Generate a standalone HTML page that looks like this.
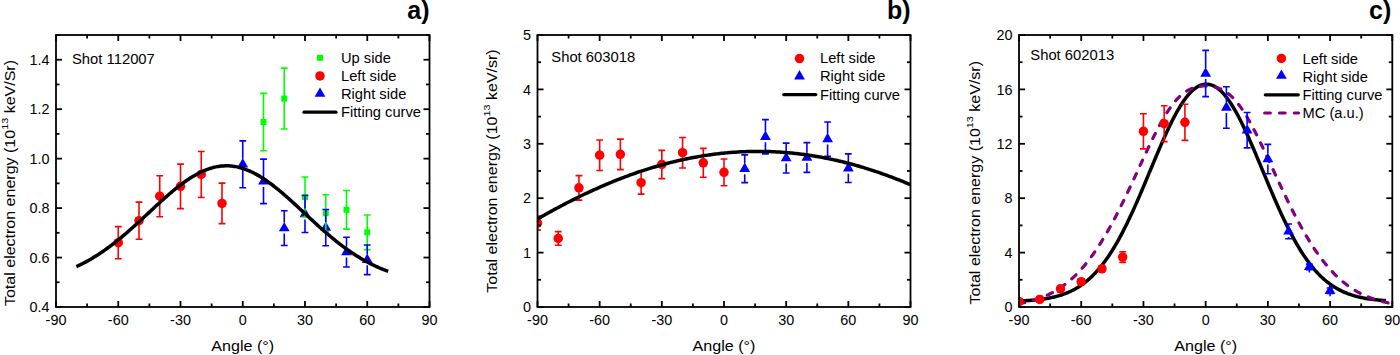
<!DOCTYPE html>
<html><head><meta charset="utf-8"><style>
html,body{margin:0;padding:0;background:#fff;width:1400px;height:355px;overflow:hidden}
svg{display:block}
text{font-family:"Liberation Sans", sans-serif;fill:#000}
</style></head><body>
<svg width="1400" height="355" viewBox="0 0 1400 355">
<defs><clipPath id="ca"><rect x="56" y="35" width="373.5" height="272"/></clipPath>
<clipPath id="cb"><rect x="537.5" y="35" width="373.0" height="272"/></clipPath>
<clipPath id="cc"><rect x="1019" y="35" width="373.29999999999995" height="272"/></clipPath></defs>
<path d="M118.25,226.64V258.78M114.85,226.64h6.8M114.85,258.78h6.8" stroke="#f00" stroke-width="1.6" fill="none"/>
<path d="M139.00,202.16V239.25M135.60,202.16h6.8M135.60,239.25h6.8" stroke="#f00" stroke-width="1.6" fill="none"/>
<path d="M159.75,175.70V216.75M156.35,175.70h6.8M156.35,216.75h6.8" stroke="#f00" stroke-width="1.6" fill="none"/>
<path d="M180.50,164.08V208.59M177.10,164.08h6.8M177.10,208.59h6.8" stroke="#f00" stroke-width="1.6" fill="none"/>
<path d="M201.25,151.47V197.46M197.85,151.47h6.8M197.85,197.46h6.8" stroke="#f00" stroke-width="1.6" fill="none"/>
<path d="M222.00,183.12V223.67M218.60,183.12h6.8M218.60,223.67h6.8" stroke="#f00" stroke-width="1.6" fill="none"/>
<circle cx="118.25" cy="242.71" r="4.75" fill="#f00"/>
<circle cx="139.00" cy="220.70" r="4.75" fill="#f00"/>
<circle cx="159.75" cy="196.22" r="4.75" fill="#f00"/>
<circle cx="180.50" cy="186.33" r="4.75" fill="#f00"/>
<circle cx="201.25" cy="174.46" r="4.75" fill="#f00"/>
<circle cx="222.00" cy="203.39" r="4.75" fill="#f00"/>
<rect x="260.50" y="119.04" width="6.0" height="6.0" fill="#0f0"/>
<rect x="281.25" y="95.55" width="6.0" height="6.0" fill="#0f0"/>
<rect x="302.00" y="193.96" width="6.0" height="6.0" fill="#0f0"/>
<rect x="322.75" y="210.28" width="6.0" height="6.0" fill="#0f0"/>
<rect x="343.50" y="206.82" width="6.0" height="6.0" fill="#0f0"/>
<rect x="364.25" y="229.32" width="6.0" height="6.0" fill="#0f0"/>
<path d="M237.35,167.52L248.15,167.52L242.75,158.12Z" fill="#00f"/>
<path d="M258.10,184.58L268.90,184.58L263.50,175.18Z" fill="#00f"/>
<path d="M278.85,231.32L289.65,231.32L284.25,221.92Z" fill="#00f"/>
<path d="M299.60,217.22L310.40,217.22L305.00,207.82Z" fill="#00f"/>
<path d="M320.35,230.82L331.15,230.82L325.75,221.42Z" fill="#00f"/>
<path d="M341.10,255.30L351.90,255.30L346.50,245.90Z" fill="#00f"/>
<path d="M361.85,262.97L372.65,262.97L367.25,253.57Z" fill="#00f"/>
<path d="M263.50,93.36V150.72M260.10,93.36h6.8M260.10,150.72h6.8" stroke="#0f0" stroke-width="1.6" fill="none"/>
<path d="M284.25,68.13V128.96M280.85,68.13h6.8M280.85,128.96h6.8" stroke="#0f0" stroke-width="1.6" fill="none"/>
<path d="M305.00,176.93V216.99M301.60,176.93h6.8M301.60,216.99h6.8" stroke="#0f0" stroke-width="1.6" fill="none"/>
<path d="M325.75,194.74V231.83M322.35,194.74h6.8M322.35,231.83h6.8" stroke="#0f0" stroke-width="1.6" fill="none"/>
<path d="M346.50,190.53V229.11M343.10,190.53h6.8M343.10,229.11h6.8" stroke="#0f0" stroke-width="1.6" fill="none"/>
<path d="M367.25,215.01V249.63M363.85,215.01h6.8M363.85,249.63h6.8" stroke="#0f0" stroke-width="1.6" fill="none"/>
<path d="M242.75,140.83V158.82M242.75,169.82V187.81M239.35,140.83h6.8M239.35,187.81h6.8" stroke="#00f" stroke-width="1.6" fill="none"/>
<path d="M263.50,159.13V175.89M263.50,186.89V203.64M260.10,159.13h6.8M260.10,203.64h6.8" stroke="#00f" stroke-width="1.6" fill="none"/>
<path d="M284.25,210.81V222.62M284.25,233.62V245.43M280.85,210.81h6.8M280.85,245.43h6.8" stroke="#00f" stroke-width="1.6" fill="none"/>
<path d="M305.00,195.48V208.53M305.00,219.53V232.57M301.60,195.48h6.8M301.60,232.57h6.8" stroke="#00f" stroke-width="1.6" fill="none"/>
<path d="M325.75,209.57V222.13M325.75,233.13V245.68M322.35,209.57h6.8M322.35,245.68h6.8" stroke="#00f" stroke-width="1.6" fill="none"/>
<path d="M346.50,237.27V246.61M346.50,257.61V266.94M343.10,237.27h6.8M343.10,266.94h6.8" stroke="#00f" stroke-width="1.6" fill="none"/>
<path d="M367.25,244.93V254.27M367.25,265.27V274.61M363.85,244.93h6.8M363.85,274.61h6.8" stroke="#00f" stroke-width="1.6" fill="none"/>
<path d="M76.33,266.63 L77.64,266.02 L78.94,265.40 L80.25,264.77 L81.55,264.12 L82.86,263.46 L84.16,262.78 L85.47,262.09 L86.77,261.38 L88.08,260.66 L89.38,259.92 L90.69,259.17 L91.99,258.40 L93.30,257.62 L94.60,256.83 L95.91,256.01 L97.21,255.19 L98.52,254.35 L99.82,253.49 L101.13,252.62 L102.43,251.73 L103.74,250.83 L105.04,249.91 L106.35,248.98 L107.65,248.04 L108.96,247.08 L110.26,246.11 L111.57,245.13 L112.87,244.13 L114.18,243.12 L115.48,242.09 L116.79,241.05 L118.09,240.00 L119.40,238.94 L120.70,237.87 L122.01,236.78 L123.31,235.69 L124.62,234.58 L125.92,233.46 L127.23,232.34 L128.53,231.20 L129.84,230.05 L131.14,228.90 L132.45,227.74 L133.75,226.57 L135.06,225.39 L136.36,224.21 L137.67,223.02 L138.97,221.83 L140.28,220.63 L141.58,219.42 L142.89,218.22 L144.19,217.01 L145.50,215.79 L146.80,214.58 L148.10,213.36 L149.41,212.15 L150.71,210.93 L152.02,209.72 L153.32,208.51 L154.63,207.30 L155.93,206.09 L157.24,204.89 L158.54,203.69 L159.85,202.50 L161.15,201.31 L162.46,200.13 L163.76,198.96 L165.07,197.79 L166.37,196.64 L167.68,195.50 L168.98,194.36 L170.29,193.24 L171.59,192.13 L172.90,191.03 L174.20,189.95 L175.51,188.88 L176.81,187.83 L178.12,186.79 L179.42,185.78 L180.73,184.77 L182.03,183.79 L183.34,182.83 L184.64,181.88 L185.95,180.96 L187.25,180.06 L188.56,179.18 L189.86,178.32 L191.17,177.49 L192.47,176.68 L193.78,175.90 L195.08,175.14 L196.39,174.41 L197.69,173.70 L199.00,173.02 L200.30,172.37 L201.61,171.75 L202.91,171.15 L204.22,170.59 L205.52,170.05 L206.83,169.55 L208.13,169.07 L209.44,168.63 L210.74,168.22 L212.05,167.83 L213.35,167.49 L214.66,167.17 L215.96,166.88 L217.26,166.63 L218.57,166.42 L219.87,166.23 L221.18,166.08 L222.48,165.96 L223.79,165.88 L225.09,165.82 L226.40,165.81 L227.70,165.82 L229.01,165.87 L230.31,165.96 L231.62,166.07 L232.92,166.23 L234.23,166.41 L235.53,166.63 L236.84,166.88 L238.14,167.16 L239.45,167.48 L240.75,167.82 L242.06,168.20 L243.36,168.61 L244.67,169.06 L245.97,169.53 L247.28,170.04 L248.58,170.57 L249.89,171.13 L251.19,171.73 L252.50,172.35 L253.80,173.00 L255.11,173.68 L256.41,174.38 L257.72,175.12 L259.02,175.87 L260.33,176.66 L261.63,177.47 L262.94,178.30 L264.24,179.15 L265.55,180.03 L266.85,180.93 L268.16,181.86 L269.46,182.80 L270.77,183.76 L272.07,184.74 L273.38,185.74 L274.68,186.76 L275.99,187.80 L277.29,188.85 L278.60,189.92 L279.90,191.00 L281.21,192.10 L282.51,193.20 L283.82,194.33 L285.12,195.46 L286.42,196.60 L287.73,197.76 L289.03,198.92 L290.34,200.09 L291.64,201.27 L292.95,202.46 L294.25,203.65 L295.56,204.85 L296.86,206.05 L298.17,207.26 L299.47,208.47 L300.78,209.68 L302.08,210.90 L303.39,212.11 L304.69,213.33 L306.00,214.54 L307.30,215.76 L308.61,216.97 L309.91,218.18 L311.22,219.38 L312.52,220.59 L313.83,221.79 L315.13,222.98 L316.44,224.17 L317.74,225.35 L319.05,226.53 L320.35,227.70 L321.66,228.86 L322.96,230.02 L324.27,231.16 L325.57,232.30 L326.88,233.43 L328.18,234.54 L329.49,235.65 L330.79,236.75 L332.10,237.83 L333.40,238.91 L334.71,239.97 L336.01,241.02 L337.32,242.06 L338.62,243.08 L339.93,244.10 L341.23,245.09 L342.54,246.08 L343.84,247.05 L345.15,248.01 L346.45,248.96 L347.76,249.89 L349.06,250.80 L350.37,251.70 L351.67,252.59 L352.98,253.46 L354.28,254.32 L355.58,255.16 L356.89,255.99 L358.19,256.80 L359.50,257.60 L360.80,258.38 L362.11,259.15 L363.41,259.90 L364.72,260.64 L366.02,261.36 L367.33,262.07 L368.63,262.76 L369.94,263.44 L371.24,264.10 L372.55,264.75 L373.85,265.38 L375.16,266.00 L376.46,266.61 L377.77,267.20 L379.07,267.77 L380.38,268.34 L381.68,268.88 L382.99,269.42 L384.29,269.94 L385.60,270.45 L386.90,270.94 L388.21,271.43" fill="none" stroke="#000" stroke-width="3.5" stroke-linejoin="round"/>
<rect x="56" y="35" width="373.5" height="272" fill="none" stroke="#000" stroke-width="1.8"/>
<line x1="56.0" y1="307" x2="56.0" y2="301.0" stroke="#000" stroke-width="1.8"/>
<line x1="56.0" y1="35" x2="56.0" y2="41.0" stroke="#000" stroke-width="1.8"/>
<text x="56.0" y="325.2" text-anchor="middle" font-size="14.4">-90</text>
<line x1="87.125" y1="307" x2="87.125" y2="303.5" stroke="#000" stroke-width="1.8"/>
<line x1="87.125" y1="35" x2="87.125" y2="38.5" stroke="#000" stroke-width="1.8"/>
<line x1="118.25" y1="307" x2="118.25" y2="301.0" stroke="#000" stroke-width="1.8"/>
<line x1="118.25" y1="35" x2="118.25" y2="41.0" stroke="#000" stroke-width="1.8"/>
<text x="118.25" y="325.2" text-anchor="middle" font-size="14.4">-60</text>
<line x1="149.375" y1="307" x2="149.375" y2="303.5" stroke="#000" stroke-width="1.8"/>
<line x1="149.375" y1="35" x2="149.375" y2="38.5" stroke="#000" stroke-width="1.8"/>
<line x1="180.5" y1="307" x2="180.5" y2="301.0" stroke="#000" stroke-width="1.8"/>
<line x1="180.5" y1="35" x2="180.5" y2="41.0" stroke="#000" stroke-width="1.8"/>
<text x="180.5" y="325.2" text-anchor="middle" font-size="14.4">-30</text>
<line x1="211.625" y1="307" x2="211.625" y2="303.5" stroke="#000" stroke-width="1.8"/>
<line x1="211.625" y1="35" x2="211.625" y2="38.5" stroke="#000" stroke-width="1.8"/>
<line x1="242.75" y1="307" x2="242.75" y2="301.0" stroke="#000" stroke-width="1.8"/>
<line x1="242.75" y1="35" x2="242.75" y2="41.0" stroke="#000" stroke-width="1.8"/>
<text x="242.75" y="325.2" text-anchor="middle" font-size="14.4">0</text>
<line x1="273.875" y1="307" x2="273.875" y2="303.5" stroke="#000" stroke-width="1.8"/>
<line x1="273.875" y1="35" x2="273.875" y2="38.5" stroke="#000" stroke-width="1.8"/>
<line x1="305.0" y1="307" x2="305.0" y2="301.0" stroke="#000" stroke-width="1.8"/>
<line x1="305.0" y1="35" x2="305.0" y2="41.0" stroke="#000" stroke-width="1.8"/>
<text x="305.0" y="325.2" text-anchor="middle" font-size="14.4">30</text>
<line x1="336.125" y1="307" x2="336.125" y2="303.5" stroke="#000" stroke-width="1.8"/>
<line x1="336.125" y1="35" x2="336.125" y2="38.5" stroke="#000" stroke-width="1.8"/>
<line x1="367.25" y1="307" x2="367.25" y2="301.0" stroke="#000" stroke-width="1.8"/>
<line x1="367.25" y1="35" x2="367.25" y2="41.0" stroke="#000" stroke-width="1.8"/>
<text x="367.25" y="325.2" text-anchor="middle" font-size="14.4">60</text>
<line x1="398.375" y1="307" x2="398.375" y2="303.5" stroke="#000" stroke-width="1.8"/>
<line x1="398.375" y1="35" x2="398.375" y2="38.5" stroke="#000" stroke-width="1.8"/>
<line x1="429.5" y1="307" x2="429.5" y2="301.0" stroke="#000" stroke-width="1.8"/>
<line x1="429.5" y1="35" x2="429.5" y2="41.0" stroke="#000" stroke-width="1.8"/>
<text x="429.5" y="325.2" text-anchor="middle" font-size="14.4">90</text>
<line x1="56" y1="307.0" x2="62.0" y2="307.0" stroke="#000" stroke-width="1.8"/>
<line x1="429.5" y1="307.0" x2="423.5" y2="307.0" stroke="#000" stroke-width="1.8"/>
<line x1="56" y1="257.54545454545456" x2="62.0" y2="257.54545454545456" stroke="#000" stroke-width="1.8"/>
<line x1="429.5" y1="257.54545454545456" x2="423.5" y2="257.54545454545456" stroke="#000" stroke-width="1.8"/>
<line x1="56" y1="208.0909090909091" x2="62.0" y2="208.0909090909091" stroke="#000" stroke-width="1.8"/>
<line x1="429.5" y1="208.0909090909091" x2="423.5" y2="208.0909090909091" stroke="#000" stroke-width="1.8"/>
<line x1="56" y1="158.63636363636365" x2="62.0" y2="158.63636363636365" stroke="#000" stroke-width="1.8"/>
<line x1="429.5" y1="158.63636363636365" x2="423.5" y2="158.63636363636365" stroke="#000" stroke-width="1.8"/>
<line x1="56" y1="109.18181818181822" x2="62.0" y2="109.18181818181822" stroke="#000" stroke-width="1.8"/>
<line x1="429.5" y1="109.18181818181822" x2="423.5" y2="109.18181818181822" stroke="#000" stroke-width="1.8"/>
<line x1="56" y1="59.727272727272805" x2="62.0" y2="59.727272727272805" stroke="#000" stroke-width="1.8"/>
<line x1="429.5" y1="59.727272727272805" x2="423.5" y2="59.727272727272805" stroke="#000" stroke-width="1.8"/>
<line x1="56" y1="282.27272727272725" x2="59.5" y2="282.27272727272725" stroke="#000" stroke-width="1.8"/>
<line x1="429.5" y1="282.27272727272725" x2="426.0" y2="282.27272727272725" stroke="#000" stroke-width="1.8"/>
<line x1="56" y1="232.81818181818184" x2="59.5" y2="232.81818181818184" stroke="#000" stroke-width="1.8"/>
<line x1="429.5" y1="232.81818181818184" x2="426.0" y2="232.81818181818184" stroke="#000" stroke-width="1.8"/>
<line x1="56" y1="183.36363636363637" x2="59.5" y2="183.36363636363637" stroke="#000" stroke-width="1.8"/>
<line x1="429.5" y1="183.36363636363637" x2="426.0" y2="183.36363636363637" stroke="#000" stroke-width="1.8"/>
<line x1="56" y1="133.9090909090909" x2="59.5" y2="133.9090909090909" stroke="#000" stroke-width="1.8"/>
<line x1="429.5" y1="133.9090909090909" x2="426.0" y2="133.9090909090909" stroke="#000" stroke-width="1.8"/>
<line x1="56" y1="84.45454545454547" x2="59.5" y2="84.45454545454547" stroke="#000" stroke-width="1.8"/>
<line x1="429.5" y1="84.45454545454547" x2="426.0" y2="84.45454545454547" stroke="#000" stroke-width="1.8"/>
<line x1="56" y1="35.0" x2="59.5" y2="35.0" stroke="#000" stroke-width="1.8"/>
<line x1="429.5" y1="35.0" x2="426.0" y2="35.0" stroke="#000" stroke-width="1.8"/>
<text x="49.6" y="312.1" text-anchor="end" font-size="14.4">0.4</text>
<text x="49.6" y="262.6454545454546" text-anchor="end" font-size="14.4">0.6</text>
<text x="49.6" y="213.1909090909091" text-anchor="end" font-size="14.4">0.8</text>
<text x="49.6" y="163.73636363636365" text-anchor="end" font-size="14.4">1.0</text>
<text x="49.6" y="114.28181818181821" text-anchor="end" font-size="14.4">1.2</text>
<text x="49.6" y="64.8272727272728" text-anchor="end" font-size="14.4">1.4</text>
<text x="72" y="63.8" font-size="14.8">Shot 112007</text>
<rect x="317.00" y="54.80" width="6.0" height="6.0" fill="#0f0"/>
<circle cx="320.00" cy="75.90" r="4.75" fill="#f00"/>
<path d="M314.60,96.80L325.40,96.80L320.00,87.40Z" fill="#00f"/>
<line x1="304" y1="112.2" x2="336" y2="112.2" stroke="#000" stroke-width="3.2" stroke-linecap="round"/>
<text x="341" y="62.7" font-size="14.7">Up side</text>
<text x="341" y="80.6" font-size="14.7">Left side</text>
<text x="341" y="98.6" font-size="14.7">Right side</text>
<text x="341" y="116.5" font-size="14.7">Fitting curve</text>
<text x="429.5" y="19.2" text-anchor="end" font-size="25" font-weight="bold">a)</text>
<text transform="translate(15.2,183) rotate(-90) scale(1.12,1)" text-anchor="middle" font-size="14.3">Total electron energy (10<tspan font-size="9.7" dy="-6.8">13</tspan><tspan dy="6.8"> keV/Sr)</tspan></text>
<text transform="translate(242.75,350.8) scale(1.075,1)" text-anchor="middle" font-size="15">Angle (°)</text>
<g clip-path="url(#cb)">
<path d="M537.50,215.99V230.13M534.10,215.99h6.8M534.10,230.13h6.8" stroke="#f00" stroke-width="1.6" fill="none"/>
<path d="M558.22,231.66V245.26M554.82,231.66h6.8M554.82,245.26h6.8" stroke="#f00" stroke-width="1.6" fill="none"/>
<path d="M578.94,175.62V200.10M575.54,175.62h6.8M575.54,200.10h6.8" stroke="#f00" stroke-width="1.6" fill="none"/>
<path d="M599.67,139.99V170.46M596.27,139.99h6.8M596.27,170.46h6.8" stroke="#f00" stroke-width="1.6" fill="none"/>
<path d="M620.39,139.12V169.59M616.99,139.12h6.8M616.99,169.59h6.8" stroke="#f00" stroke-width="1.6" fill="none"/>
<path d="M641.11,171.27V194.12M637.71,171.27h6.8M637.71,194.12h6.8" stroke="#f00" stroke-width="1.6" fill="none"/>
<path d="M661.83,150.33V178.62M658.43,150.33h6.8M658.43,178.62h6.8" stroke="#f00" stroke-width="1.6" fill="none"/>
<path d="M682.56,137.49V167.95M679.16,137.49h6.8M679.16,167.95h6.8" stroke="#f00" stroke-width="1.6" fill="none"/>
<path d="M703.28,148.42V177.26M699.88,148.42h6.8M699.88,177.26h6.8" stroke="#f00" stroke-width="1.6" fill="none"/>
<path d="M724.00,159.03V185.69M720.60,159.03h6.8M720.60,185.69h6.8" stroke="#f00" stroke-width="1.6" fill="none"/>
<circle cx="537.50" cy="223.06" r="4.75" fill="#f00"/>
<circle cx="558.22" cy="238.46" r="4.75" fill="#f00"/>
<circle cx="578.94" cy="187.86" r="4.75" fill="#f00"/>
<circle cx="599.67" cy="155.22" r="4.75" fill="#f00"/>
<circle cx="620.39" cy="154.35" r="4.75" fill="#f00"/>
<circle cx="641.11" cy="182.70" r="4.75" fill="#f00"/>
<circle cx="661.83" cy="164.47" r="4.75" fill="#f00"/>
<circle cx="682.56" cy="152.72" r="4.75" fill="#f00"/>
<circle cx="703.28" cy="162.84" r="4.75" fill="#f00"/>
<circle cx="724.00" cy="172.36" r="4.75" fill="#f00"/>
</g>
<path d="M744.72,154.90V163.27M744.72,174.27V182.64M741.32,154.90h6.8M741.32,182.64h6.8" stroke="#00f" stroke-width="1.6" fill="none"/>
<path d="M765.44,119.65V131.28M765.44,142.28V153.92M762.04,119.65h6.8M762.04,153.92h6.8" stroke="#00f" stroke-width="1.6" fill="none"/>
<path d="M786.17,143.15V152.61M786.17,163.61V173.07M782.77,143.15h6.8M782.77,173.07h6.8" stroke="#00f" stroke-width="1.6" fill="none"/>
<path d="M806.89,142.66V152.01M806.89,163.01V172.36M803.49,142.66h6.8M803.49,172.36h6.8" stroke="#00f" stroke-width="1.6" fill="none"/>
<path d="M827.61,121.93V133.57M827.61,144.57V156.20M824.21,121.93h6.8M824.21,156.20h6.8" stroke="#00f" stroke-width="1.6" fill="none"/>
<path d="M848.33,153.92V162.73M848.33,173.73V182.53M844.93,153.92h6.8M844.93,182.53h6.8" stroke="#00f" stroke-width="1.6" fill="none"/>
<path d="M739.32,171.97L750.12,171.97L744.72,162.57Z" fill="#00f"/>
<path d="M760.04,139.98L770.84,139.98L765.44,130.58Z" fill="#00f"/>
<path d="M780.77,161.30L791.57,161.30L786.17,151.90Z" fill="#00f"/>
<path d="M801.49,160.70L812.29,160.70L806.89,151.30Z" fill="#00f"/>
<path d="M822.21,142.26L833.01,142.26L827.61,132.86Z" fill="#00f"/>
<path d="M842.93,171.42L853.73,171.42L848.33,162.02Z" fill="#00f"/>
<path d="M537.50,219.03 L539.06,218.13 L540.62,217.23 L542.18,216.34 L543.74,215.46 L545.30,214.58 L546.86,213.70 L548.42,212.83 L549.99,211.97 L551.55,211.11 L553.11,210.25 L554.67,209.40 L556.23,208.56 L557.79,207.72 L559.35,206.89 L560.91,206.06 L562.47,205.24 L564.03,204.42 L565.59,203.61 L567.15,202.80 L568.71,202.00 L570.27,201.20 L571.83,200.41 L573.40,199.63 L574.96,198.85 L576.52,198.07 L578.08,197.30 L579.64,196.54 L581.20,195.78 L582.76,195.03 L584.32,194.29 L585.88,193.54 L587.44,192.81 L589.00,192.08 L590.56,191.36 L592.12,190.64 L593.68,189.93 L595.24,189.22 L596.81,188.53 L598.37,187.83 L599.93,187.14 L601.49,186.46 L603.05,185.79 L604.61,185.12 L606.17,184.45 L607.73,183.79 L609.29,183.14 L610.85,182.50 L612.41,181.86 L613.97,181.22 L615.53,180.60 L617.09,179.98 L618.65,179.36 L620.22,178.75 L621.78,178.15 L623.34,177.55 L624.90,176.96 L626.46,176.38 L628.02,175.80 L629.58,175.23 L631.14,174.67 L632.70,174.11 L634.26,173.56 L635.82,173.01 L637.38,172.47 L638.94,171.94 L640.50,171.41 L642.06,170.89 L643.63,170.38 L645.19,169.87 L646.75,169.37 L648.31,168.88 L649.87,168.39 L651.43,167.91 L652.99,167.44 L654.55,166.97 L656.11,166.51 L657.67,166.06 L659.23,165.61 L660.79,165.17 L662.35,164.73 L663.91,164.31 L665.47,163.89 L667.04,163.47 L668.60,163.07 L670.16,162.67 L671.72,162.27 L673.28,161.89 L674.84,161.51 L676.40,161.13 L677.96,160.77 L679.52,160.41 L681.08,160.06 L682.64,159.71 L684.20,159.37 L685.76,159.04 L687.32,158.71 L688.88,158.40 L690.45,158.09 L692.01,157.78 L693.57,157.48 L695.13,157.19 L696.69,156.91 L698.25,156.64 L699.81,156.37 L701.37,156.10 L702.93,155.85 L704.49,155.60 L706.05,155.36 L707.61,155.13 L709.17,154.90 L710.73,154.68 L712.29,154.47 L713.86,154.26 L715.42,154.06 L716.98,153.87 L718.54,153.69 L720.10,153.51 L721.66,153.34 L723.22,153.18 L724.78,153.02 L726.34,152.87 L727.90,152.73 L729.46,152.59 L731.02,152.47 L732.58,152.35 L734.14,152.23 L735.71,152.13 L737.27,152.03 L738.83,151.94 L740.39,151.85 L741.95,151.77 L743.51,151.70 L745.07,151.64 L746.63,151.58 L748.19,151.54 L749.75,151.49 L751.31,151.46 L752.87,151.43 L754.43,151.41 L755.99,151.40 L757.55,151.39 L759.12,151.40 L760.68,151.40 L762.24,151.42 L763.80,151.44 L765.36,151.47 L766.92,151.51 L768.48,151.56 L770.04,151.61 L771.60,151.67 L773.16,151.73 L774.72,151.81 L776.28,151.89 L777.84,151.97 L779.40,152.07 L780.96,152.17 L782.53,152.28 L784.09,152.40 L785.65,152.52 L787.21,152.65 L788.77,152.79 L790.33,152.93 L791.89,153.08 L793.45,153.24 L795.01,153.41 L796.57,153.58 L798.13,153.76 L799.69,153.95 L801.25,154.15 L802.81,154.35 L804.37,154.56 L805.94,154.77 L807.50,154.99 L809.06,155.22 L810.62,155.46 L812.18,155.71 L813.74,155.96 L815.30,156.21 L816.86,156.48 L818.42,156.75 L819.98,157.03 L821.54,157.32 L823.10,157.61 L824.66,157.91 L826.22,158.22 L827.78,158.53 L829.35,158.85 L830.91,159.18 L832.47,159.51 L834.03,159.85 L835.59,160.20 L837.15,160.56 L838.71,160.92 L840.27,161.29 L841.83,161.67 L843.39,162.05 L844.95,162.44 L846.51,162.83 L848.07,163.24 L849.63,163.65 L851.19,164.06 L852.76,164.49 L854.32,164.92 L855.88,165.35 L857.44,165.80 L859.00,166.25 L860.56,166.70 L862.12,167.17 L863.68,167.64 L865.24,168.11 L866.80,168.60 L868.36,169.09 L869.92,169.58 L871.48,170.09 L873.04,170.60 L874.60,171.11 L876.17,171.63 L877.73,172.16 L879.29,172.70 L880.85,173.24 L882.41,173.79 L883.97,174.34 L885.53,174.90 L887.09,175.47 L888.65,176.04 L890.21,176.62 L891.77,177.21 L893.33,177.80 L894.89,178.40 L896.45,179.01 L898.01,179.62 L899.58,180.24 L901.14,180.86 L902.70,181.49 L904.26,182.13 L905.82,182.77 L907.38,183.42 L908.94,184.07 L910.50,184.73" fill="none" stroke="#000" stroke-width="3.5" stroke-linejoin="round" clip-path="url(#cb)"/>
<rect x="537.5" y="35" width="373.0" height="272" fill="none" stroke="#000" stroke-width="1.8"/>
<line x1="537.5" y1="307" x2="537.5" y2="301.0" stroke="#000" stroke-width="1.8"/>
<line x1="537.5" y1="35" x2="537.5" y2="41.0" stroke="#000" stroke-width="1.8"/>
<text x="537.5" y="325.2" text-anchor="middle" font-size="14.4">-90</text>
<line x1="568.5833333333334" y1="307" x2="568.5833333333334" y2="303.5" stroke="#000" stroke-width="1.8"/>
<line x1="568.5833333333334" y1="35" x2="568.5833333333334" y2="38.5" stroke="#000" stroke-width="1.8"/>
<line x1="599.6666666666666" y1="307" x2="599.6666666666666" y2="301.0" stroke="#000" stroke-width="1.8"/>
<line x1="599.6666666666666" y1="35" x2="599.6666666666666" y2="41.0" stroke="#000" stroke-width="1.8"/>
<text x="599.6666666666666" y="325.2" text-anchor="middle" font-size="14.4">-60</text>
<line x1="630.75" y1="307" x2="630.75" y2="303.5" stroke="#000" stroke-width="1.8"/>
<line x1="630.75" y1="35" x2="630.75" y2="38.5" stroke="#000" stroke-width="1.8"/>
<line x1="661.8333333333334" y1="307" x2="661.8333333333334" y2="301.0" stroke="#000" stroke-width="1.8"/>
<line x1="661.8333333333334" y1="35" x2="661.8333333333334" y2="41.0" stroke="#000" stroke-width="1.8"/>
<text x="661.8333333333334" y="325.2" text-anchor="middle" font-size="14.4">-30</text>
<line x1="692.9166666666666" y1="307" x2="692.9166666666666" y2="303.5" stroke="#000" stroke-width="1.8"/>
<line x1="692.9166666666666" y1="35" x2="692.9166666666666" y2="38.5" stroke="#000" stroke-width="1.8"/>
<line x1="724.0" y1="307" x2="724.0" y2="301.0" stroke="#000" stroke-width="1.8"/>
<line x1="724.0" y1="35" x2="724.0" y2="41.0" stroke="#000" stroke-width="1.8"/>
<text x="724.0" y="325.2" text-anchor="middle" font-size="14.4">0</text>
<line x1="755.0833333333334" y1="307" x2="755.0833333333334" y2="303.5" stroke="#000" stroke-width="1.8"/>
<line x1="755.0833333333334" y1="35" x2="755.0833333333334" y2="38.5" stroke="#000" stroke-width="1.8"/>
<line x1="786.1666666666666" y1="307" x2="786.1666666666666" y2="301.0" stroke="#000" stroke-width="1.8"/>
<line x1="786.1666666666666" y1="35" x2="786.1666666666666" y2="41.0" stroke="#000" stroke-width="1.8"/>
<text x="786.1666666666666" y="325.2" text-anchor="middle" font-size="14.4">30</text>
<line x1="817.25" y1="307" x2="817.25" y2="303.5" stroke="#000" stroke-width="1.8"/>
<line x1="817.25" y1="35" x2="817.25" y2="38.5" stroke="#000" stroke-width="1.8"/>
<line x1="848.3333333333333" y1="307" x2="848.3333333333333" y2="301.0" stroke="#000" stroke-width="1.8"/>
<line x1="848.3333333333333" y1="35" x2="848.3333333333333" y2="41.0" stroke="#000" stroke-width="1.8"/>
<text x="848.3333333333333" y="325.2" text-anchor="middle" font-size="14.4">60</text>
<line x1="879.4166666666667" y1="307" x2="879.4166666666667" y2="303.5" stroke="#000" stroke-width="1.8"/>
<line x1="879.4166666666667" y1="35" x2="879.4166666666667" y2="38.5" stroke="#000" stroke-width="1.8"/>
<line x1="910.5" y1="307" x2="910.5" y2="301.0" stroke="#000" stroke-width="1.8"/>
<line x1="910.5" y1="35" x2="910.5" y2="41.0" stroke="#000" stroke-width="1.8"/>
<text x="910.5" y="325.2" text-anchor="middle" font-size="14.4">90</text>
<line x1="537.5" y1="307.0" x2="543.5" y2="307.0" stroke="#000" stroke-width="1.8"/>
<line x1="910.5" y1="307.0" x2="904.5" y2="307.0" stroke="#000" stroke-width="1.8"/>
<line x1="537.5" y1="252.6" x2="543.5" y2="252.6" stroke="#000" stroke-width="1.8"/>
<line x1="910.5" y1="252.6" x2="904.5" y2="252.6" stroke="#000" stroke-width="1.8"/>
<line x1="537.5" y1="198.2" x2="543.5" y2="198.2" stroke="#000" stroke-width="1.8"/>
<line x1="910.5" y1="198.2" x2="904.5" y2="198.2" stroke="#000" stroke-width="1.8"/>
<line x1="537.5" y1="143.8" x2="543.5" y2="143.8" stroke="#000" stroke-width="1.8"/>
<line x1="910.5" y1="143.8" x2="904.5" y2="143.8" stroke="#000" stroke-width="1.8"/>
<line x1="537.5" y1="89.4" x2="543.5" y2="89.4" stroke="#000" stroke-width="1.8"/>
<line x1="910.5" y1="89.4" x2="904.5" y2="89.4" stroke="#000" stroke-width="1.8"/>
<line x1="537.5" y1="35.0" x2="543.5" y2="35.0" stroke="#000" stroke-width="1.8"/>
<line x1="910.5" y1="35.0" x2="904.5" y2="35.0" stroke="#000" stroke-width="1.8"/>
<line x1="537.5" y1="279.8" x2="541.0" y2="279.8" stroke="#000" stroke-width="1.8"/>
<line x1="910.5" y1="279.8" x2="907.0" y2="279.8" stroke="#000" stroke-width="1.8"/>
<line x1="537.5" y1="225.4" x2="541.0" y2="225.4" stroke="#000" stroke-width="1.8"/>
<line x1="910.5" y1="225.4" x2="907.0" y2="225.4" stroke="#000" stroke-width="1.8"/>
<line x1="537.5" y1="171.0" x2="541.0" y2="171.0" stroke="#000" stroke-width="1.8"/>
<line x1="910.5" y1="171.0" x2="907.0" y2="171.0" stroke="#000" stroke-width="1.8"/>
<line x1="537.5" y1="116.6" x2="541.0" y2="116.6" stroke="#000" stroke-width="1.8"/>
<line x1="910.5" y1="116.6" x2="907.0" y2="116.6" stroke="#000" stroke-width="1.8"/>
<line x1="537.5" y1="62.19999999999999" x2="541.0" y2="62.19999999999999" stroke="#000" stroke-width="1.8"/>
<line x1="910.5" y1="62.19999999999999" x2="907.0" y2="62.19999999999999" stroke="#000" stroke-width="1.8"/>
<text x="531.1" y="312.1" text-anchor="end" font-size="14.4">0</text>
<text x="531.1" y="257.7" text-anchor="end" font-size="14.4">1</text>
<text x="531.1" y="203.29999999999998" text-anchor="end" font-size="14.4">2</text>
<text x="531.1" y="148.9" text-anchor="end" font-size="14.4">3</text>
<text x="531.1" y="94.5" text-anchor="end" font-size="14.4">4</text>
<text x="531.1" y="40.1" text-anchor="end" font-size="14.4">5</text>
<text x="551.3" y="61.8" font-size="14.8">Shot 603018</text>
<circle cx="799.50" cy="58.60" r="4.75" fill="#f00"/>
<path d="M794.10,79.40L804.90,79.40L799.50,70.00Z" fill="#00f"/>
<line x1="783.8" y1="94.6" x2="815.8" y2="94.6" stroke="#000" stroke-width="3.2" stroke-linecap="round"/>
<text x="820" y="63.4" font-size="14.7">Left side</text>
<text x="820" y="81.4" font-size="14.7">Right side</text>
<text x="820" y="99.5" font-size="14.7">Fitting curve</text>
<text x="910.5" y="19.2" text-anchor="end" font-size="25" font-weight="bold">b)</text>
<text transform="translate(496.6,171) rotate(-90) scale(1.12,1)" text-anchor="middle" font-size="14.3">Total electron energy (10<tspan font-size="9.7" dy="-6.8">13</tspan><tspan dy="6.8"> keV/sr)</tspan></text>
<text transform="translate(724.0,350.8) scale(1.075,1)" text-anchor="middle" font-size="15">Angle (°)</text>
<path d="M1019.00,300.97 L1020.54,300.90 L1022.07,300.84 L1023.61,300.76 L1025.14,300.68 L1026.68,300.59 L1028.21,300.50 L1029.75,300.39 L1031.28,300.28 L1032.82,300.15 L1034.36,300.02 L1035.89,299.88 L1037.43,299.72 L1038.96,299.55 L1040.50,299.36 L1042.03,299.17 L1043.57,298.95 L1045.10,298.72 L1046.64,298.47 L1048.18,298.20 L1049.71,297.92 L1051.25,297.61 L1052.78,297.27 L1054.32,296.92 L1055.85,296.54 L1057.39,296.13 L1058.92,295.70 L1060.46,295.23 L1062.00,294.73 L1063.53,294.21 L1065.07,293.64 L1066.60,293.04 L1068.14,292.41 L1069.67,291.73 L1071.21,291.01 L1072.74,290.25 L1074.28,289.44 L1075.82,288.59 L1077.35,287.69 L1078.89,286.74 L1080.42,285.74 L1081.96,284.68 L1083.49,283.57 L1085.03,282.40 L1086.56,281.17 L1088.10,279.88 L1089.64,278.52 L1091.17,277.11 L1092.71,275.62 L1094.24,274.07 L1095.78,272.45 L1097.31,270.76 L1098.85,269.00 L1100.38,267.17 L1101.92,265.26 L1103.46,263.28 L1104.99,261.22 L1106.53,259.09 L1108.06,256.88 L1109.60,254.59 L1111.13,252.23 L1112.67,249.79 L1114.20,247.27 L1115.74,244.68 L1117.27,242.01 L1118.81,239.27 L1120.35,236.45 L1121.88,233.56 L1123.42,230.60 L1124.95,227.58 L1126.49,224.48 L1128.02,221.32 L1129.56,218.10 L1131.09,214.82 L1132.63,211.49 L1134.17,208.10 L1135.70,204.66 L1137.24,201.17 L1138.77,197.65 L1140.31,194.08 L1141.84,190.49 L1143.38,186.86 L1144.91,183.21 L1146.45,179.55 L1147.99,175.87 L1149.52,172.18 L1151.06,168.49 L1152.59,164.80 L1154.13,161.13 L1155.66,157.47 L1157.20,153.83 L1158.73,150.22 L1160.27,146.65 L1161.81,143.11 L1163.34,139.63 L1164.88,136.19 L1166.41,132.82 L1167.95,129.52 L1169.48,126.29 L1171.02,123.13 L1172.55,120.07 L1174.09,117.09 L1175.63,114.21 L1177.16,111.44 L1178.70,108.78 L1180.23,106.23 L1181.77,103.80 L1183.30,101.49 L1184.84,99.31 L1186.37,97.27 L1187.91,95.36 L1189.45,93.60 L1190.98,91.98 L1192.52,90.51 L1194.05,89.19 L1195.59,88.02 L1197.12,87.01 L1198.66,86.15 L1200.19,85.45 L1201.73,84.91 L1203.27,84.52 L1204.80,84.29 L1206.34,84.21 L1207.87,84.28 L1209.41,84.49 L1210.94,84.86 L1212.48,85.38 L1214.01,86.07 L1215.55,86.91 L1217.09,87.90 L1218.62,89.05 L1220.16,90.35 L1221.69,91.81 L1223.23,93.41 L1224.76,95.16 L1226.30,97.05 L1227.83,99.07 L1229.37,101.24 L1230.91,103.53 L1232.44,105.94 L1233.98,108.48 L1235.51,111.13 L1237.05,113.90 L1238.58,116.76 L1240.12,119.73 L1241.65,122.78 L1243.19,125.92 L1244.73,129.15 L1246.26,132.44 L1247.80,135.81 L1249.33,139.24 L1250.87,142.72 L1252.40,146.24 L1253.94,149.81 L1255.47,153.42 L1257.01,157.06 L1258.55,160.71 L1260.08,164.39 L1261.62,168.07 L1263.15,171.76 L1264.69,175.45 L1266.22,179.13 L1267.76,182.80 L1269.29,186.45 L1270.83,190.08 L1272.37,193.68 L1273.90,197.25 L1275.44,200.78 L1276.97,204.27 L1278.51,207.71 L1280.04,211.10 L1281.58,214.45 L1283.11,217.73 L1284.65,220.96 L1286.18,224.13 L1287.72,227.23 L1289.26,230.26 L1290.79,233.23 L1292.33,236.13 L1293.86,238.95 L1295.40,241.70 L1296.93,244.38 L1298.47,246.98 L1300.00,249.50 L1301.54,251.95 L1303.08,254.33 L1304.61,256.62 L1306.15,258.84 L1307.68,260.98 L1309.22,263.05 L1310.75,265.04 L1312.29,266.95 L1313.82,268.80 L1315.36,270.57 L1316.90,272.26 L1318.43,273.89 L1319.97,275.45 L1321.50,276.94 L1323.04,278.37 L1324.57,279.73 L1326.11,281.03 L1327.64,282.26 L1329.18,283.44 L1330.72,284.56 L1332.25,285.62 L1333.79,286.63 L1335.32,287.59 L1336.86,288.49 L1338.39,289.35 L1339.93,290.16 L1341.46,290.93 L1343.00,291.65 L1344.54,292.33 L1346.07,292.97 L1347.61,293.58 L1349.14,294.14 L1350.68,294.68 L1352.21,295.18 L1353.75,295.64 L1355.28,296.08 L1356.82,296.49 L1358.36,296.88 L1359.89,297.24 L1361.43,297.57 L1362.96,297.88 L1364.50,298.17 L1366.03,298.44 L1367.57,298.69 L1369.10,298.93 L1370.64,299.14 L1372.18,299.34 L1373.71,299.53 L1375.25,299.70 L1376.78,299.86 L1378.32,300.00 L1379.85,300.14 L1381.39,300.26 L1382.92,300.38 L1384.46,300.49 L1386.00,300.58" fill="none" stroke="#000" stroke-width="3.5" stroke-linejoin="round" clip-path="url(#cc)"/>
<path d="M1019.00,303.63 L1020.56,303.35 L1022.12,303.06 L1023.69,302.74 L1025.25,302.41 L1026.81,302.06 L1028.37,301.68 L1029.93,301.29 L1031.50,300.87 L1033.06,300.43 L1034.62,299.97 L1036.18,299.48 L1037.74,298.96 L1039.31,298.41 L1040.87,297.84 L1042.43,297.24 L1043.99,296.60 L1045.55,295.93 L1047.11,295.23 L1048.68,294.50 L1050.24,293.73 L1051.80,292.92 L1053.36,292.07 L1054.92,291.19 L1056.49,290.26 L1058.05,289.29 L1059.61,288.28 L1061.17,287.23 L1062.73,286.13 L1064.30,284.98 L1065.86,283.79 L1067.42,282.54 L1068.98,281.25 L1070.54,279.91 L1072.11,278.51 L1073.67,277.06 L1075.23,275.56 L1076.79,274.00 L1078.35,272.39 L1079.92,270.72 L1081.48,268.99 L1083.04,267.21 L1084.60,265.36 L1086.16,263.46 L1087.72,261.50 L1089.29,259.48 L1090.85,257.40 L1092.41,255.26 L1093.97,253.06 L1095.53,250.80 L1097.10,248.48 L1098.66,246.10 L1100.22,243.66 L1101.78,241.16 L1103.34,238.60 L1104.91,235.99 L1106.47,233.32 L1108.03,230.59 L1109.59,227.82 L1111.15,224.98 L1112.72,222.10 L1114.28,219.16 L1115.84,216.18 L1117.40,213.15 L1118.96,210.08 L1120.53,206.96 L1122.09,203.81 L1123.65,200.61 L1125.21,197.38 L1126.77,194.12 L1128.33,190.84 L1129.90,187.52 L1131.46,184.18 L1133.02,180.83 L1134.58,177.46 L1136.14,174.07 L1137.71,170.69 L1139.27,167.29 L1140.83,163.90 L1142.39,160.52 L1143.95,157.15 L1145.52,153.79 L1147.08,150.46 L1148.64,147.15 L1150.20,143.88 L1151.76,140.65 L1153.33,137.47 L1154.89,134.33 L1156.45,131.26 L1158.01,128.25 L1159.57,125.31 L1161.14,122.46 L1162.70,119.69 L1164.26,117.00 L1165.82,114.42 L1167.38,111.94 L1168.94,109.57 L1170.51,107.31 L1172.07,105.16 L1173.63,103.14 L1175.19,101.24 L1176.75,99.46 L1178.32,97.81 L1179.88,96.29 L1181.44,94.88 L1183.00,93.60 L1184.56,92.44 L1186.13,91.39 L1187.69,90.46 L1189.25,89.63 L1190.81,88.90 L1192.37,88.26 L1193.94,87.72 L1195.50,87.26 L1197.06,86.87 L1198.62,86.56 L1200.18,86.32 L1201.75,86.14 L1203.31,86.02 L1204.87,85.96 L1206.43,85.97 L1207.99,86.02 L1209.55,86.14 L1211.12,86.32 L1212.68,86.57 L1214.24,86.88 L1215.80,87.27 L1217.36,87.73 L1218.93,88.28 L1220.49,88.92 L1222.05,89.65 L1223.61,90.48 L1225.17,91.42 L1226.74,92.47 L1228.30,93.64 L1229.86,94.92 L1231.42,96.33 L1232.98,97.86 L1234.55,99.51 L1236.11,101.29 L1237.67,103.20 L1239.23,105.22 L1240.79,107.37 L1242.36,109.63 L1243.92,112.01 L1245.48,114.49 L1247.04,117.08 L1248.60,119.76 L1250.16,122.54 L1251.73,125.40 L1253.29,128.34 L1254.85,131.35 L1256.41,134.42 L1257.97,137.56 L1259.54,140.74 L1261.10,143.98 L1262.66,147.25 L1264.22,150.55 L1265.78,153.89 L1267.35,157.24 L1268.91,160.62 L1270.47,164.00 L1272.03,167.39 L1273.59,170.78 L1275.16,174.17 L1276.72,177.55 L1278.28,180.93 L1279.84,184.28 L1281.40,187.62 L1282.97,190.93 L1284.53,194.22 L1286.09,197.48 L1287.65,200.71 L1289.21,203.90 L1290.77,207.05 L1292.34,210.17 L1293.90,213.24 L1295.46,216.27 L1297.02,219.25 L1298.58,222.18 L1300.15,225.07 L1301.71,227.90 L1303.27,230.67 L1304.83,233.40 L1306.39,236.07 L1307.96,238.68 L1309.52,241.23 L1311.08,243.73 L1312.64,246.17 L1314.20,248.55 L1315.77,250.86 L1317.33,253.12 L1318.89,255.32 L1320.45,257.46 L1322.01,259.54 L1323.58,261.56 L1325.14,263.52 L1326.70,265.42 L1328.26,267.26 L1329.82,269.04 L1331.38,270.77 L1332.95,272.43 L1334.51,274.05 L1336.07,275.60 L1337.63,277.10 L1339.19,278.55 L1340.76,279.95 L1342.32,281.29 L1343.88,282.58 L1345.44,283.82 L1347.00,285.02 L1348.57,286.16 L1350.13,287.26 L1351.69,288.31 L1353.25,289.32 L1354.81,290.29 L1356.38,291.21 L1357.94,292.10 L1359.50,292.94 L1361.06,293.75 L1362.62,294.52 L1364.19,295.25 L1365.75,295.95 L1367.31,296.62 L1368.87,297.25 L1370.43,297.86 L1371.99,298.43 L1373.56,298.97 L1375.12,299.49 L1376.68,299.98 L1378.24,300.44 L1379.80,300.88 L1381.37,301.30 L1382.93,301.69 L1384.49,302.07 L1386.05,302.42 L1387.61,302.75 L1389.18,303.06 L1390.74,303.36 L1392.30,303.64" fill="none" stroke="#800080" stroke-width="3.2" stroke-linejoin="round" stroke-dasharray="5.8 9" stroke-linecap="round" clip-path="url(#cc)"/>
<g clip-path="url(#cc)">
<path d="M1019.00,298.84V304.28M1015.60,298.84h6.8M1015.60,304.28h6.8" stroke="#f00" stroke-width="1.6" fill="none"/>
<path d="M1039.74,296.66V302.10M1036.34,296.66h6.8M1036.34,302.10h6.8" stroke="#f00" stroke-width="1.6" fill="none"/>
<path d="M1060.48,286.06V291.50M1057.08,286.06h6.8M1057.08,291.50h6.8" stroke="#f00" stroke-width="1.6" fill="none"/>
<path d="M1081.22,278.98V284.42M1077.82,278.98h6.8M1077.82,284.42h6.8" stroke="#f00" stroke-width="1.6" fill="none"/>
<path d="M1101.96,266.06V271.50M1098.56,266.06h6.8M1098.56,271.50h6.8" stroke="#f00" stroke-width="1.6" fill="none"/>
<path d="M1122.69,251.78V262.39M1119.29,251.78h6.8M1119.29,262.39h6.8" stroke="#f00" stroke-width="1.6" fill="none"/>
<path d="M1143.43,113.74V148.83M1140.03,113.74h6.8M1140.03,148.83h6.8" stroke="#f00" stroke-width="1.6" fill="none"/>
<path d="M1164.17,105.72V141.62M1160.77,105.72h6.8M1160.77,141.62h6.8" stroke="#f00" stroke-width="1.6" fill="none"/>
<path d="M1184.91,104.22V140.40M1181.51,104.22h6.8M1181.51,140.40h6.8" stroke="#f00" stroke-width="1.6" fill="none"/>
<circle cx="1019.00" cy="301.56" r="4.75" fill="#f00"/>
<circle cx="1039.74" cy="299.38" r="4.75" fill="#f00"/>
<circle cx="1060.48" cy="288.78" r="4.75" fill="#f00"/>
<circle cx="1081.22" cy="281.70" r="4.75" fill="#f00"/>
<circle cx="1101.96" cy="268.78" r="4.75" fill="#f00"/>
<circle cx="1122.69" cy="257.09" r="4.75" fill="#f00"/>
<circle cx="1143.43" cy="131.29" r="4.75" fill="#f00"/>
<circle cx="1164.17" cy="123.67" r="4.75" fill="#f00"/>
<circle cx="1184.91" cy="122.31" r="4.75" fill="#f00"/>
</g>
<path d="M1205.65,50.37V67.99M1205.65,78.99V96.61M1202.25,50.37h6.8M1202.25,96.61h6.8" stroke="#00f" stroke-width="1.6" fill="none"/>
<path d="M1226.39,86.68V101.99M1226.39,112.99V128.30M1222.99,86.68h6.8M1222.99,128.30h6.8" stroke="#00f" stroke-width="1.6" fill="none"/>
<path d="M1247.13,112.52V124.70M1247.13,135.70V147.88M1243.73,112.52h6.8M1243.73,147.88h6.8" stroke="#00f" stroke-width="1.6" fill="none"/>
<path d="M1267.87,144.34V153.53M1267.87,164.53V173.72M1264.47,144.34h6.8M1264.47,173.72h6.8" stroke="#00f" stroke-width="1.6" fill="none"/>
<path d="M1288.61,224.04V225.88M1288.61,236.88V238.73M1285.21,224.04h6.8M1285.21,238.73h6.8" stroke="#00f" stroke-width="1.6" fill="none"/>
<path d="M1309.34,264.16V261.38M1309.34,272.38V269.60M1305.94,264.16h6.8M1305.94,269.60h6.8" stroke="#00f" stroke-width="1.6" fill="none"/>
<path d="M1330.08,287.96V285.18M1330.08,296.18V293.40M1326.68,287.96h6.8M1326.68,293.40h6.8" stroke="#00f" stroke-width="1.6" fill="none"/>
<path d="M1200.25,76.68L1211.05,76.68L1205.65,67.28Z" fill="#00f"/>
<path d="M1220.99,110.68L1231.79,110.68L1226.39,101.28Z" fill="#00f"/>
<path d="M1241.73,133.40L1252.53,133.40L1247.13,124.00Z" fill="#00f"/>
<path d="M1262.47,162.23L1273.27,162.23L1267.87,152.83Z" fill="#00f"/>
<path d="M1283.21,234.58L1294.01,234.58L1288.61,225.18Z" fill="#00f"/>
<path d="M1303.94,270.08L1314.74,270.08L1309.34,260.68Z" fill="#00f"/>
<path d="M1324.68,293.88L1335.48,293.88L1330.08,284.48Z" fill="#00f"/>
<rect x="1019" y="35" width="373.29999999999995" height="272" fill="none" stroke="#000" stroke-width="1.8"/>
<line x1="1019.0" y1="307" x2="1019.0" y2="301.0" stroke="#000" stroke-width="1.8"/>
<line x1="1019.0" y1="35" x2="1019.0" y2="41.0" stroke="#000" stroke-width="1.8"/>
<text x="1019.0" y="325.2" text-anchor="middle" font-size="14.4">-90</text>
<line x1="1050.1083333333333" y1="307" x2="1050.1083333333333" y2="303.5" stroke="#000" stroke-width="1.8"/>
<line x1="1050.1083333333333" y1="35" x2="1050.1083333333333" y2="38.5" stroke="#000" stroke-width="1.8"/>
<line x1="1081.2166666666667" y1="307" x2="1081.2166666666667" y2="301.0" stroke="#000" stroke-width="1.8"/>
<line x1="1081.2166666666667" y1="35" x2="1081.2166666666667" y2="41.0" stroke="#000" stroke-width="1.8"/>
<text x="1081.2166666666667" y="325.2" text-anchor="middle" font-size="14.4">-60</text>
<line x1="1112.325" y1="307" x2="1112.325" y2="303.5" stroke="#000" stroke-width="1.8"/>
<line x1="1112.325" y1="35" x2="1112.325" y2="38.5" stroke="#000" stroke-width="1.8"/>
<line x1="1143.4333333333334" y1="307" x2="1143.4333333333334" y2="301.0" stroke="#000" stroke-width="1.8"/>
<line x1="1143.4333333333334" y1="35" x2="1143.4333333333334" y2="41.0" stroke="#000" stroke-width="1.8"/>
<text x="1143.4333333333334" y="325.2" text-anchor="middle" font-size="14.4">-30</text>
<line x1="1174.5416666666667" y1="307" x2="1174.5416666666667" y2="303.5" stroke="#000" stroke-width="1.8"/>
<line x1="1174.5416666666667" y1="35" x2="1174.5416666666667" y2="38.5" stroke="#000" stroke-width="1.8"/>
<line x1="1205.6499999999999" y1="307" x2="1205.6499999999999" y2="301.0" stroke="#000" stroke-width="1.8"/>
<line x1="1205.6499999999999" y1="35" x2="1205.6499999999999" y2="41.0" stroke="#000" stroke-width="1.8"/>
<text x="1205.6499999999999" y="325.2" text-anchor="middle" font-size="14.4">0</text>
<line x1="1236.7583333333332" y1="307" x2="1236.7583333333332" y2="303.5" stroke="#000" stroke-width="1.8"/>
<line x1="1236.7583333333332" y1="35" x2="1236.7583333333332" y2="38.5" stroke="#000" stroke-width="1.8"/>
<line x1="1267.8666666666666" y1="307" x2="1267.8666666666666" y2="301.0" stroke="#000" stroke-width="1.8"/>
<line x1="1267.8666666666666" y1="35" x2="1267.8666666666666" y2="41.0" stroke="#000" stroke-width="1.8"/>
<text x="1267.8666666666666" y="325.2" text-anchor="middle" font-size="14.4">30</text>
<line x1="1298.975" y1="307" x2="1298.975" y2="303.5" stroke="#000" stroke-width="1.8"/>
<line x1="1298.975" y1="35" x2="1298.975" y2="38.5" stroke="#000" stroke-width="1.8"/>
<line x1="1330.0833333333333" y1="307" x2="1330.0833333333333" y2="301.0" stroke="#000" stroke-width="1.8"/>
<line x1="1330.0833333333333" y1="35" x2="1330.0833333333333" y2="41.0" stroke="#000" stroke-width="1.8"/>
<text x="1330.0833333333333" y="325.2" text-anchor="middle" font-size="14.4">60</text>
<line x1="1361.1916666666666" y1="307" x2="1361.1916666666666" y2="303.5" stroke="#000" stroke-width="1.8"/>
<line x1="1361.1916666666666" y1="35" x2="1361.1916666666666" y2="38.5" stroke="#000" stroke-width="1.8"/>
<line x1="1392.3" y1="307" x2="1392.3" y2="301.0" stroke="#000" stroke-width="1.8"/>
<line x1="1392.3" y1="35" x2="1392.3" y2="41.0" stroke="#000" stroke-width="1.8"/>
<text x="1392.3" y="325.2" text-anchor="middle" font-size="14.4">90</text>
<line x1="1019" y1="307.0" x2="1025.0" y2="307.0" stroke="#000" stroke-width="1.8"/>
<line x1="1392.3" y1="307.0" x2="1386.3" y2="307.0" stroke="#000" stroke-width="1.8"/>
<line x1="1019" y1="252.6" x2="1025.0" y2="252.6" stroke="#000" stroke-width="1.8"/>
<line x1="1392.3" y1="252.6" x2="1386.3" y2="252.6" stroke="#000" stroke-width="1.8"/>
<line x1="1019" y1="198.2" x2="1025.0" y2="198.2" stroke="#000" stroke-width="1.8"/>
<line x1="1392.3" y1="198.2" x2="1386.3" y2="198.2" stroke="#000" stroke-width="1.8"/>
<line x1="1019" y1="143.8" x2="1025.0" y2="143.8" stroke="#000" stroke-width="1.8"/>
<line x1="1392.3" y1="143.8" x2="1386.3" y2="143.8" stroke="#000" stroke-width="1.8"/>
<line x1="1019" y1="89.4" x2="1025.0" y2="89.4" stroke="#000" stroke-width="1.8"/>
<line x1="1392.3" y1="89.4" x2="1386.3" y2="89.4" stroke="#000" stroke-width="1.8"/>
<line x1="1019" y1="35.0" x2="1025.0" y2="35.0" stroke="#000" stroke-width="1.8"/>
<line x1="1392.3" y1="35.0" x2="1386.3" y2="35.0" stroke="#000" stroke-width="1.8"/>
<line x1="1019" y1="279.8" x2="1022.5" y2="279.8" stroke="#000" stroke-width="1.8"/>
<line x1="1392.3" y1="279.8" x2="1388.8" y2="279.8" stroke="#000" stroke-width="1.8"/>
<line x1="1019" y1="225.4" x2="1022.5" y2="225.4" stroke="#000" stroke-width="1.8"/>
<line x1="1392.3" y1="225.4" x2="1388.8" y2="225.4" stroke="#000" stroke-width="1.8"/>
<line x1="1019" y1="171.0" x2="1022.5" y2="171.0" stroke="#000" stroke-width="1.8"/>
<line x1="1392.3" y1="171.0" x2="1388.8" y2="171.0" stroke="#000" stroke-width="1.8"/>
<line x1="1019" y1="116.6" x2="1022.5" y2="116.6" stroke="#000" stroke-width="1.8"/>
<line x1="1392.3" y1="116.6" x2="1388.8" y2="116.6" stroke="#000" stroke-width="1.8"/>
<line x1="1019" y1="62.19999999999999" x2="1022.5" y2="62.19999999999999" stroke="#000" stroke-width="1.8"/>
<line x1="1392.3" y1="62.19999999999999" x2="1388.8" y2="62.19999999999999" stroke="#000" stroke-width="1.8"/>
<text x="1012.6" y="312.1" text-anchor="end" font-size="14.4">0</text>
<text x="1012.6" y="257.7" text-anchor="end" font-size="14.4">4</text>
<text x="1012.6" y="203.29999999999998" text-anchor="end" font-size="14.4">8</text>
<text x="1012.6" y="148.9" text-anchor="end" font-size="14.4">12</text>
<text x="1012.6" y="94.5" text-anchor="end" font-size="14.4">16</text>
<text x="1012.6" y="40.1" text-anchor="end" font-size="14.4">20</text>
<text x="1030.3" y="60.2" font-size="14.8">Shot 602013</text>
<circle cx="1281.40" cy="58.40" r="4.75" fill="#f00"/>
<path d="M1276.00,78.80L1286.80,78.80L1281.40,69.40Z" fill="#00f"/>
<line x1="1265.3" y1="94.8" x2="1298.3" y2="94.8" stroke="#000" stroke-width="3.2" stroke-linecap="round"/>
<line x1="1264.6" y1="113" x2="1298.6" y2="113" stroke="#800080" stroke-width="3" stroke-dasharray="5.8 9" stroke-linecap="round"/>
<text x="1302.5" y="63.6" font-size="14.7">Left side</text>
<text x="1302.5" y="81.6" font-size="14.7">Right side</text>
<text x="1302.5" y="99.9" font-size="14.7">Fitting curve</text>
<text x="1302.5" y="118.1" font-size="14.7">MC (a.u.)</text>
<text x="1391.3" y="19.2" text-anchor="end" font-size="25" font-weight="bold">c)</text>
<text transform="translate(979.6,182.7) rotate(-90) scale(1.12,1)" text-anchor="middle" font-size="14.3">Total electron energy (10<tspan font-size="9.7" dy="-6.8">13</tspan><tspan dy="6.8"> keV/sr)</tspan></text>
<text transform="translate(1205.65,350.8) scale(1.075,1)" text-anchor="middle" font-size="15">Angle (°)</text>
</svg></body></html>
